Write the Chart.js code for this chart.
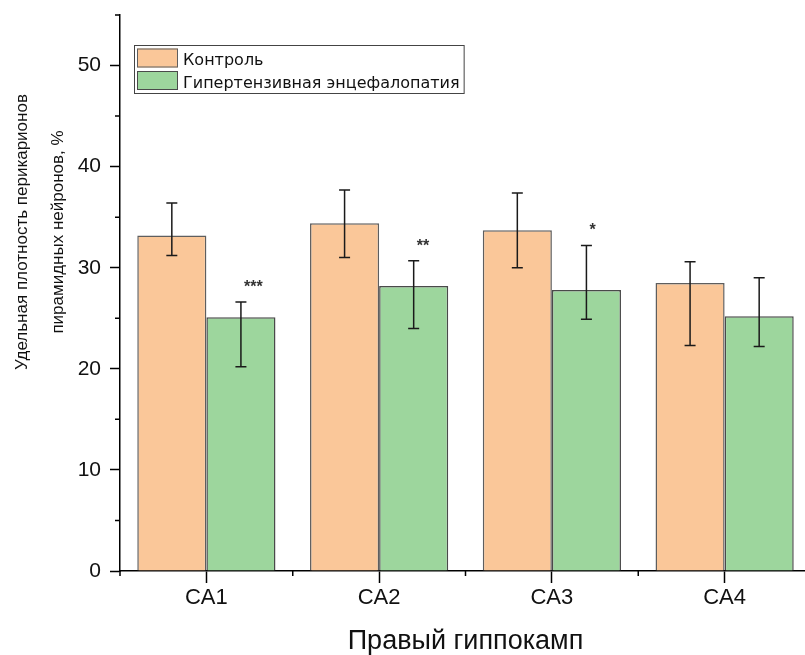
<!DOCTYPE html>
<html lang="ru">
<head>
<meta charset="utf-8">
<title>Правый гиппокамп</title>
<script src="https://cdn.jsdelivr.net/npm/chart.js@4.4.1/dist/chart.umd.min.js"></script>
<style>
  html, body { margin: 0; padding: 0; background: #fff; overflow: hidden; }
  #wrap { width: 805px; height: 655px; overflow: hidden; }
</style>
</head>
<body>
<div id="wrap"><canvas id="densityChart" width="811" height="655"></canvas></div>
<script>
// Relative density of pyramidal neuron perikarya, right hippocampus
const regions = ['CA1', 'CA2', 'CA3', 'CA4'];

const controlMean = [33.2, 34.4, 33.7, 28.5];
const controlHigh = [36.4, 37.7, 37.4, 30.6];
const controlLow  = [31.2, 31.0, 30.0, 22.3];

const hyperMean = [25.1, 28.2, 27.8, 25.2];
const hyperHigh = [26.6, 30.7, 32.2, 29.0];
const hyperLow  = [20.2, 24.0, 24.9, 22.2];

// significance markers vs control
const hyperSig = ['***', '**', '*', ''];

const yMajorTicks = [0, 10, 20, 30, 40, 50];
const yMinorTicks = [5, 15, 25, 35, 45, 55];

const yTitle = ['Удельная плотность перикарионов', 'пирамидных нейронов, %'];
const xTitle = 'Правый гиппокамп';

Chart.defaults.font.family = '"Liberation Sans", Arial, sans-serif';
Chart.defaults.color = '#111';

// whiskers + stars on top of the bars
const errorBars = {
    id: 'errorBars',
    afterDatasetsDraw(chart) {
        const ctx = chart.ctx;
        const y = chart.scales.y;
        chart.data.datasets.forEach((ds, di) => {
            const meta = chart.getDatasetMeta(di);
            meta.data.forEach((bar, i) => {
                const top = y.getPixelForValue(ds.errHigh[i]);
                const bottom = y.getPixelForValue(ds.errLow[i]);
                const cap = 5.5;
                ctx.save();
                ctx.strokeStyle = '#1a1a1a';
                ctx.lineWidth = 1.5;
                ctx.beginPath();
                ctx.moveTo(bar.x, top);
                ctx.lineTo(bar.x, bottom);
                ctx.moveTo(bar.x - cap, top);
                ctx.lineTo(bar.x + cap, top);
                ctx.moveTo(bar.x - cap, bottom);
                ctx.lineTo(bar.x + cap, bottom);
                ctx.stroke();
                if (ds.sig && ds.sig[i]) {
                    ctx.fillStyle = '#333';
                    ctx.font = 'bold 16px "Liberation Sans", Arial, sans-serif';
                    ctx.textAlign = 'left';
                    ctx.textBaseline = 'alphabetic';
                    ctx.fillText(ds.sig[i], bar.x + 3, top - 10);
                }
                ctx.restore();
            });
        });
    }
};

// minor y ticks, x ticks between groups, y title and boxed legend
const decorations = {
    id: 'decorations',
    afterDraw(chart) {
        const ctx = chart.ctx;
        const area = chart.chartArea;
        const y = chart.scales.y;

        ctx.save();
        ctx.strokeStyle = '#000';
        ctx.lineWidth = 1.5;
        ctx.beginPath();
        yMinorTicks.forEach(v => {
            const py = y.getPixelForValue(v);
            ctx.moveTo(area.left - 5, py);
            ctx.lineTo(area.left, py);
        });
        const step = (area.right - area.left) / regions.length;
        for (let i = 0; i < regions.length; i++) {
            const px = area.left + i * step;
            ctx.moveTo(px, area.bottom);
            ctx.lineTo(px, area.bottom + 5);
        }
        ctx.stroke();

        // y axis title, two lines
        ctx.fillStyle = '#111';
        ctx.font = '17px "Liberation Sans", Arial, sans-serif';
        ctx.textAlign = 'center';
        ctx.textBaseline = 'alphabetic';
        const titleX = [27, 63];
        yTitle.forEach((line, i) => {
            ctx.save();
            ctx.translate(titleX[i], 232);
            ctx.rotate(-Math.PI / 2);
            ctx.fillText(line, 0, 0);
            ctx.restore();
        });

        // legend
        const lx = area.left + 14;
        const ly = area.top + 30;
        ctx.font = '16px "DejaVu Sans", sans-serif';
        ctx.textAlign = 'left';
        let textW = 0;
        chart.data.datasets.forEach(ds => {
            textW = Math.max(textW, ctx.measureText(ds.label).width);
        });
        const rowH = 22.5;
        const boxW = 41, boxH = 19;
        const frameW = 3 + boxW + 5 + textW + 4;
        const frameH = chart.data.datasets.length * rowH + 3;
        ctx.lineWidth = 1;
        ctx.strokeStyle = '#444';
        ctx.strokeRect(lx + 0.5, ly + 0.5, frameW, frameH);
        chart.data.datasets.forEach((ds, i) => {
            const by = ly + 3.5 + i * rowH;
            ctx.fillStyle = ds.backgroundColor;
            ctx.fillRect(lx + 3, by, boxW, boxH);
            ctx.strokeStyle = ds.borderColor;
            ctx.strokeRect(lx + 3.5, by + 0.5, boxW - 1, boxH - 1);
            ctx.fillStyle = '#111';
            ctx.fillText(ds.label, lx + 3 + boxW + 5, by + 16.5);
        });
        ctx.restore();
    }
};

const ctx = document.getElementById('densityChart').getContext('2d');
new Chart(ctx, {
    type: 'bar',
    data: {
        labels: regions,
        datasets: [{
            label: 'Контроль',
            data: controlMean,
            errHigh: controlHigh,
            errLow: controlLow,
            backgroundColor: 'rgb(250, 199, 153)',
            borderColor: '#5e5e5e',
            borderWidth: 1.5
        }, {
            label: 'Гипертензивная энцефалопатия',
            data: hyperMean,
            errHigh: hyperHigh,
            errLow: hyperLow,
            sig: hyperSig,
            backgroundColor: 'rgb(157, 214, 157)',
            borderColor: '#4a4a4a',
            borderWidth: 1.5
        }]
    },
    options: {
        responsive: false,
        animation: false,
        categoryPercentage: 0.8,
        barPercentage: 1.0,
        layout: {
            padding: { top: 15, right: 0, bottom: 0, left: 0 }
        },
        plugins: {
            legend: { display: false },
            tooltip: { enabled: false }
        },
        scales: {
            x: {
                z: 1,
                grid: {
                    offset: false,
                    drawOnChartArea: false,
                    tickLength: 12,
                    tickWidth: 1.5,
                    tickColor: '#000'
                },
                border: { display: true, color: '#000', width: 1.5 },
                ticks: {
                    padding: 2,
                    font: { size: 22 }
                },
                title: {
                    display: true,
                    text: xTitle,
                    font: { size: 27, lineHeight: 1 },
                    padding: { top: 0, bottom: 0 }
                },
                afterFit(scale) {
                    scale.height = 84;
                    scale.paddingLeft = 0;
                    scale.paddingRight = 0;
                }
            },
            y: {
                z: 1,
                min: 0,
                max: 55,
                afterBuildTicks(scale) {
                    scale.ticks = yMajorTicks.map(v => ({ value: v }));
                },
                grid: {
                    drawOnChartArea: false,
                    tickLength: 10,
                    tickWidth: 1.5,
                    tickColor: '#000'
                },
                border: { display: true, color: '#000', width: 1.5 },
                ticks: {
                    padding: 9,
                    font: { size: 21 }
                },
                afterFit(scale) {
                    scale.width = 120;
                    scale.paddingTop = 0;
                    scale.paddingBottom = 0;
                }
            }
        }
    },
    plugins: [errorBars, decorations]
});
</script>
</body>
</html>
